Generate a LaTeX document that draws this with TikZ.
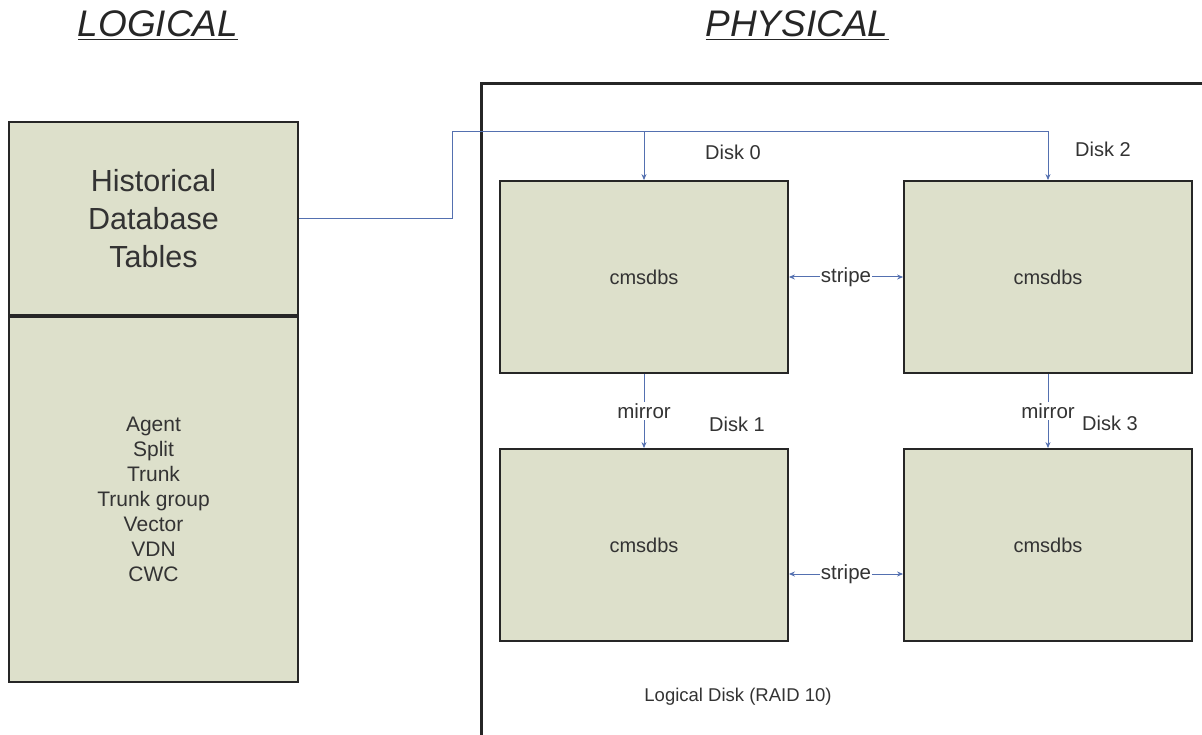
\documentclass[tikz,border=0pt]{standalone}
\usepackage{fontspec}
\setmainfont{Liberation Sans}
\usetikzlibrary{arrows.meta,calc}
\definecolor{boxfill}{HTML}{DDE0CB}
\definecolor{linkblue}{HTML}{5470B0}
\definecolor{txt}{HTML}{333333}
\begin{document}
\begin{tikzpicture}[x=1pt,y=-1pt,
  every node/.style={text=txt, font=\fontsize{20}{24}\selectfont},
  panel/.style={draw=black!85, line width=1.8pt, fill=boxfill, inner sep=0pt},
  diskbox/.style={panel, minimum width=288pt, minimum height=192pt},
  link/.style={draw=linkblue, line width=1pt},
  arr/.style={link, -{Stealth[length=6pt,width=5pt]}},
  darr/.style={link, {Stealth[length=6pt,width=5pt]}-{Stealth[length=6pt,width=5pt]}},
  lbl/.style={fill=white, inner sep=1pt, font=\fontsize{20.5}{24}\selectfont},
  disklbl/.style={font=\fontsize{20}{24}\selectfont},
  title/.style={font=\fontsize{37}{42}\selectfont\itshape, text=black!85, anchor=base}
]
\useasboundingbox (0,0) rectangle (1202,735);
\fill[white] (0,0) rectangle (1202,735);

% titles
\node[title] (tl) at (158,37) {\underline{LOGICAL}};
\node[title] (tp) at (797,37) {\underline{PHYSICAL}};

% physical frame (open to the right and bottom)
\coordinate (fb) at (481,740);
\coordinate (fc) at (481,84);
\coordinate (fr) at (1210,84);
\draw[line width=3pt, black!85] (fb) -- (fc) -- (fr);

% logical box
\node[panel, minimum width=289pt, minimum height=193pt,
  font=\fontsize{30.5}{38}\selectfont, align=center] (hist) at (153.5,218.5)
  {Historical\\Database\\Tables};
\node[panel, minimum width=289pt, minimum height=365pt, anchor=north,
  align=center, font=\fontsize{21}{25}\selectfont] (list) at (hist.south)
  {Agent\\Split\\Trunk\\Trunk group\\Vector\\VDN\\CWC};

% disks
\node[diskbox] (d0) at (644,277) {cmsdbs};
\node[diskbox] (d2) at (1048,277) {cmsdbs};
\node[diskbox] (d1) at (644,545) {cmsdbs};
\node[diskbox] (d3) at (1048,545) {cmsdbs};

\node[disklbl] (l0) at (733,152) {Disk 0};
\node[disklbl] (l2) at (1103,149) {Disk 2};
\node[disklbl] (l1) at (737,424) {Disk 1};
\node[disklbl] (l3) at (1110,423) {Disk 3};

% connector from logical tables to disks
\coordinate (j) at (452,132);
\draw[arr] (hist.east) -| (j) -| (d2.north);
\draw[arr] (j -| d0.north) -- (d0.north);

% stripe
\draw[darr] (d0.east) -- node[lbl] (s0) {stripe} (d2.west);
\draw[darr] ([yshift=-29pt]d1.east) -- node[lbl] (s1) {stripe} ([yshift=-29pt]d3.west);

% mirror
\draw[arr] (d0.south) -- node[lbl] (m0) {mirror} (d1.north);
\draw[arr] (d2.south) -- node[lbl] (m1) {mirror} (d3.north);

\node[font=\fontsize{18.5}{22}\selectfont] (raid) at (738,697) {Logical Disk (RAID 10)};
\end{tikzpicture}
\end{document}
